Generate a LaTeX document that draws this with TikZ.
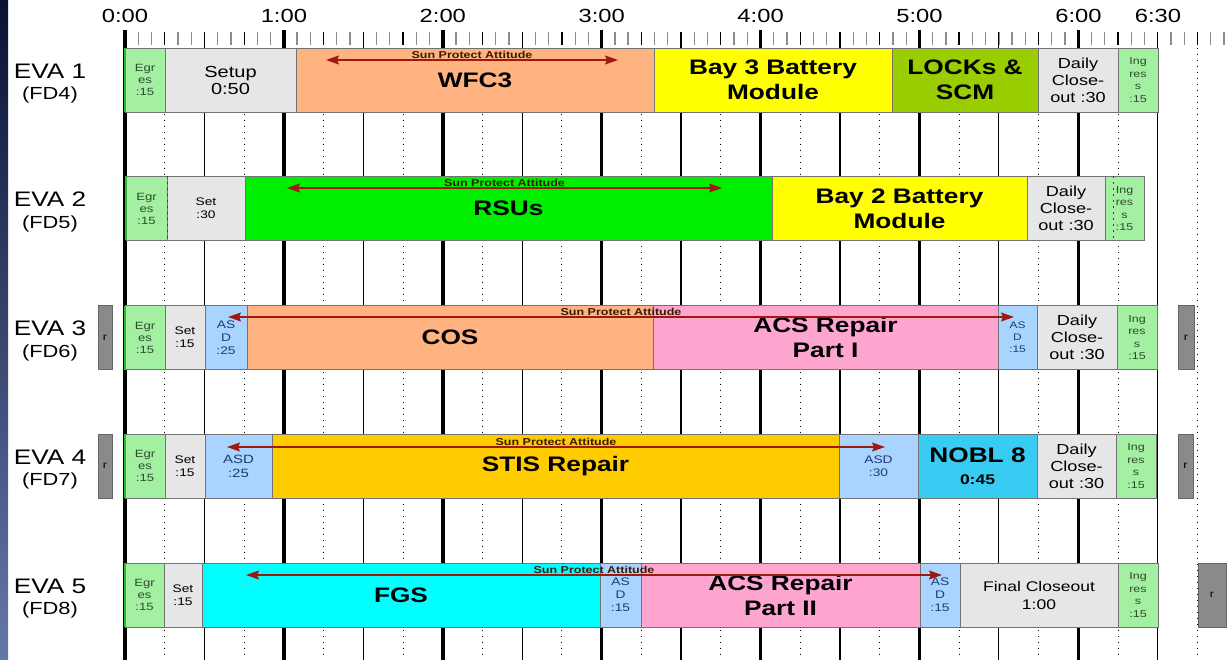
\documentclass[tikz,border=0pt]{standalone}
\usepackage{fontspec}
\setmainfont[FakeStretch=1.25]{Liberation Sans}
\usetikzlibrary{arrows.meta}

\definecolor{egrgreen}{HTML}{A3F0A3}
\definecolor{egredge}{HTML}{2DB82D}
\definecolor{egrtext}{HTML}{2E4A2E}
\definecolor{setgray}{HTML}{E6E6E6}
\definecolor{wfcorange}{HTML}{FFB380}
\definecolor{bayyellow}{HTML}{FFFF00}
\definecolor{lockgreen}{HTML}{9ACD00}
\definecolor{rsugreen}{HTML}{00EE00}
\definecolor{acspink}{HTML}{FFA6D0}
\definecolor{asdblue}{HTML}{A8D4FF}
\definecolor{asdtext}{HTML}{1F3A78}
\definecolor{stisgold}{HTML}{FFCC00}
\definecolor{noblblue}{HTML}{38CCF2}
\definecolor{fgscyan}{HTML}{00FFFF}
\definecolor{rgray}{HTML}{8A8A8A}
\definecolor{spared}{HTML}{9E1A0E}
\definecolor{spatext}{HTML}{3A1A05}
\definecolor{slatetop}{HTML}{0A1233}
\definecolor{slatebot}{HTML}{6478A8}

\newcommand\fsz[2]{\fontsize{#1}{#2}\selectfont}

\tikzset{
  seg/.style={draw=black!55, line width=0.8pt, anchor=west, outer sep=0pt,
    inner sep=0pt, minimum height=64pt, align=center},
  egr/.style={seg, fill=egrgreen, text=egrtext, font=\fsz{10.5}{12}},
  ing/.style={seg, fill=egrgreen, text=egrtext, font=\fsz{10}{12.5}},
  prep/.style={seg, fill=setgray, font=\fsz{14.5}{17}},
  setsmall/.style={seg, fill=setgray, font=\fsz{11}{13}},
  asd/.style={seg, fill=asdblue, text=asdtext, font=\fsz{11}{13}},
  task/.style={seg, font=\bfseries\fsz{21}{25}},
  rbox/.style={draw=black!60, fill=rgray, line width=0.8pt, anchor=west,
    outer sep=0pt, inner sep=0pt, minimum height=64pt, font=\fsz{10}{12}},
  evalabel/.style={font=\fsz{21}{24}},
  fdlabel/.style={font=\fsz{17.5}{20}},
  axislabel/.style={font=\fsz{19}{22}},
  minortick/.style={draw=black!45, line width=1.3pt},
  quartertick/.style={draw=black, line width=1.3pt},
  quarterline/.style={draw=black, line width=0.9pt, dash pattern=on 1.2pt off 4.8pt},
  halfline/.style={draw=black, line width=1.2pt},
  hourline/.style={draw=black, line width=3.5pt},
  sunarrow/.style={draw=spared, line width=1.4pt,
    {Stealth[length=13pt,width=9pt,inset=2pt]}-{Stealth[length=13pt,width=9pt,inset=2pt]}},
  sunlabel/.style={text=spatext, font=\bfseries\fsz{10}{11}, anchor=base,
    inner sep=0pt, yshift=1.5pt}
}

\begin{document}
\begin{tikzpicture}[x=1pt,y=-1pt]
  \fill[white] (0,0) rectangle (1228,660);
  \useasboundingbox (0,0) rectangle (1228,660);
  \shade[top color=slatetop, bottom color=slatebot] (0,0) rectangle (8,660);

  % time scale and grid
  \foreach \m in {5,10,...,415}
    \draw[minortick] ({125+2.648*\m},32) -- ({125+2.648*\m},45);
  \foreach \m in {15,45,...,405}{
    \draw[quartertick] ({125+2.648*\m},32) -- ({125+2.648*\m},45);
    \draw[quarterline] ({125+2.648*\m},48) -- ({125+2.648*\m},660);
  }
  \foreach \m in {30,90,...,390}
    \draw[halfline] ({125+2.648*\m},32) -- ({125+2.648*\m},660);
  \foreach \h in {0,...,6}{
    \draw[hourline] ({125+158.9*\h},30) -- ({125+158.9*\h},660);
    \node[axislabel] (t\h) at ({125+158.9*\h},16) {\h:00};
  }
  \node[axislabel] (t630) at (1158,16) {6:30};

  % EVA labels
  \node[evalabel] (eva1) at (50,71) {EVA 1};
  \node[fdlabel] (fd1) at (50,95) {(FD4)};
  \node[evalabel] (eva2) at (50,199.5) {EVA 2};
  \node[fdlabel] (fd2) at (50,223.5) {(FD5)};
  \node[evalabel] (eva3) at (50,328.5) {EVA 3};
  \node[fdlabel] (fd3) at (50,352.5) {(FD6)};
  \node[evalabel] (eva4) at (50,457) {EVA 4};
  \node[fdlabel] (fd4) at (50,481) {(FD7)};
  \node[evalabel] (eva5) at (50,586) {EVA 5};
  \node[fdlabel] (fd5) at (50,610) {(FD8)};

  % EVA 1
  \node[egr, minimum width=40pt] (egr1) at (125,80) {Egr\\es\\:15};
  \node[prep, minimum width=131pt, font=\fsz{16}{17}] (setup1) at (165,80) {Setup\\0:50};
  \node[task, fill=wfcorange, minimum width=358pt] (wfc3) at (296,80) {WFC3};
  \node[task, fill=bayyellow, minimum width=238pt] (bay3) at (654,80) {Bay 3 Battery\\Module};
  \node[task, fill=lockgreen, minimum width=146pt] (locks) at (892,80) {LOCKs \&\\SCM};
  \node[prep, minimum width=80pt] (daily1) at (1038,80) {Daily\\Close-\\out :30};
  \node[ing, minimum width=40pt] (ing1) at (1118,80) {Ing\\res\\s\\:15};

  % EVA 2
  \node[egr, minimum width=41pt] (egr2) at (126,208.5) {Egr\\es\\:15};
  \node[setsmall, minimum width=78pt] (set2) at (167,208.5) {Set\\:30};
  \node[task, fill=rsugreen, minimum width=527pt] (rsus) at (245,208.5) {RSUs};
  \node[task, fill=bayyellow, minimum width=255pt] (bay2) at (772,208.5) {Bay 2 Battery\\Module};
  \node[prep, minimum width=78pt] (daily2) at (1027,208.5) {Daily\\Close-\\out :30};
  \node[ing, minimum width=39pt] (ing2) at (1105,208.5) {Ing\\res\\s\\:15};
  \draw[quarterline, draw=egrtext] (egr2.north east) -- (egr2.south east);
  \draw[quarterline, draw=egrtext] (1113,176.5) -- (1113,240.5);

  % EVA 3
  \node[rbox, minimum width=14pt] (r3w) at (98,337.5) {r};
  \node[egr, minimum width=40pt] (egr3) at (125,337.5) {Egr\\es\\:15};
  \node[setsmall, minimum width=40pt] (set3) at (165,337.5) {Set\\:15};
  \node[asd, minimum width=42pt] (asd3w) at (205,337.5) {AS\\D\\:25};
  \node[task, fill=wfcorange, minimum width=406pt] (cos) at (247,337.5) {COS};
  \node[task, fill=acspink, minimum width=345pt] (acs1) at (653,337.5) {ACS Repair\\Part I};
  \node[asd, minimum width=39pt, font=\fsz{9.5}{12}] (asd3e) at (998,337.5) {AS\\D\\:15};
  \node[prep, minimum width=80pt] (daily3) at (1037,337.5) {Daily\\Close-\\out :30};
  \node[ing, minimum width=40pt] (ing3) at (1117,337.5) {Ing\\res\\s\\:15};
  \node[rbox, minimum width=16pt] (r3e) at (1178,337.5) {r};

  % EVA 4
  \node[rbox, minimum width=14pt] (r4w) at (98,466) {r};
  \node[egr, minimum width=40pt] (egr4) at (125,466) {Egr\\es\\:15};
  \node[setsmall, minimum width=40pt] (set4) at (165,466) {Set\\:15};
  \node[asd, minimum width=67pt, font=\fsz{12}{14}] (asd4w) at (205,466) {ASD\\:25};
  \node[task, fill=stisgold, minimum width=567pt] (stis) at (272,466) {STIS Repair};
  \node[asd, minimum width=79pt] (asd4e) at (839,466) {ASD\\:30};
  \node[task, fill=noblblue, minimum width=119pt, font=\bfseries\fsz{21}{22}] (nobl) at (918,466) {NOBL 8\\{\fsz{14}{17}0:45}};
  \node[prep, minimum width=79pt] (daily4) at (1037,466) {Daily\\Close-\\out :30};
  \node[ing, minimum width=40pt] (ing4) at (1116,466) {Ing\\res\\s\\:15};
  \node[rbox, minimum width=15pt] (r4e) at (1178,466) {r};

  % EVA 5
  \node[egr, minimum width=39pt] (egr5) at (125,595) {Egr\\es\\:15};
  \node[setsmall, minimum width=38pt] (set5) at (164,595) {Set\\:15};
  \node[task, fill=fgscyan, minimum width=398pt] (fgs) at (202,595) {FGS};
  \node[asd, minimum width=41pt] (asd5w) at (600,595) {AS\\D\\:15};
  \node[task, fill=acspink, minimum width=279pt] (acs2) at (641,595) {ACS Repair\\Part II};
  \node[asd, minimum width=40pt] (asd5e) at (920,595) {AS\\D\\:15};
  \node[prep, minimum width=158pt, font=\fsz{14}{18}] (final) at (960,595) {Final Closeout\\1:00};
  \node[ing, minimum width=40pt] (ing5) at (1118,595) {Ing\\res\\s\\:15};
  \node[rbox, minimum width=28pt] (r5e) at (1198,595) {r};

  % egress edges
  \foreach \e in {egr1,egr2,egr3,egr4,egr5}
    \draw[egredge, line width=2pt] (\e.north west) -- (\e.south west);

  % sun protect attitude
  \coordinate (spa1w) at (326,60);
  \coordinate (spa1e) at (618,60);
  \coordinate (spa2w) at (287,188);
  \coordinate (spa2e) at (722,188);
  \coordinate (spa3w) at (228,317);
  \coordinate (spa3e) at (1014,317);
  \coordinate (spa4w) at (227,447);
  \coordinate (spa4e) at (885,447);
  \coordinate (spa5w) at (246,575);
  \coordinate (spa5e) at (942,575);
  \foreach \i in {1,...,5}
    \draw[sunarrow] (spa\i w) -- node[sunlabel] {Sun Protect Attitude} (spa\i e);
\end{tikzpicture}
\end{document}
